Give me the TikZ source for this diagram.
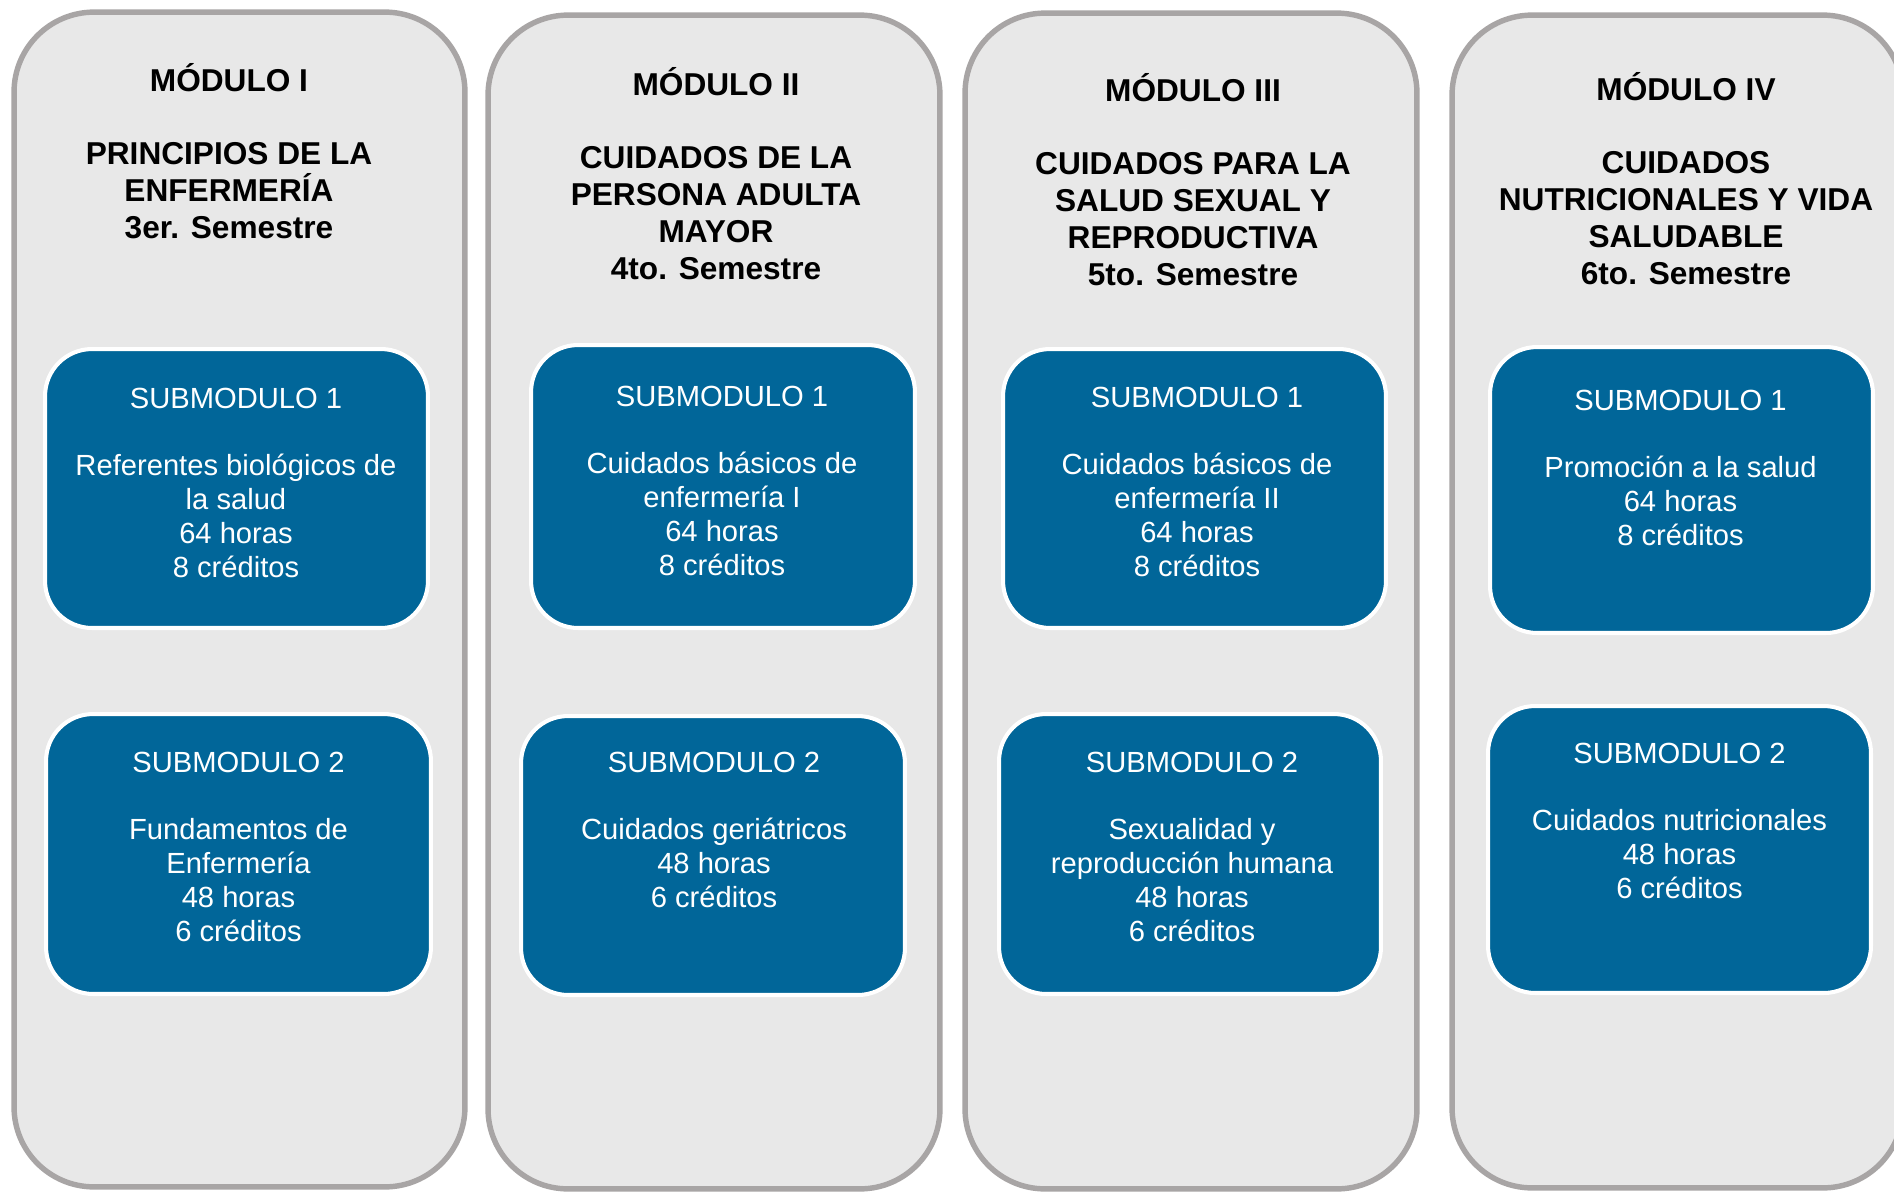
\documentclass[tikz,border=0pt]{standalone}
\usepackage{fontspec}
\setmainfont{Liberation Sans}
\definecolor{modfill}{RGB}{232,232,232}
\definecolor{modline}{RGB}{168,165,165}
\definecolor{subblue}{RGB}{1,102,153}
\begin{document}
\begin{tikzpicture}[x=0.02cm,y=-0.02cm,
  modbox/.style={draw=modline, fill=modfill, line width=3.1pt, rounded corners=1.6cm, inner sep=0pt, outer sep=0pt},
  subbox/.style={draw=white, fill=subblue, line width=2.3pt, rounded corners=0.94cm, inner sep=0pt, outer sep=0pt},
  titletext/.style={font=\bfseries\fontsize{18pt}{20.9pt}\selectfont, align=center, anchor=base, inner sep=0pt, text=black},
  subtext/.style={font=\fontsize{16.6pt}{19.2pt}\selectfont, align=center, anchor=base, inner sep=0pt, text=white}]
\useasboundingbox[fill=white] (0,0) rectangle (1894,1191);
\clip (0,0) rectangle (1894,1191);

% modules
\node (m1) [modbox, minimum width=9.02cm, minimum height=23.5cm] at (239.5,599.5) {};
\node (m2) [modbox, minimum width=9.04cm, minimum height=23.48cm] at (714,602) {};
\node (m3) [modbox, minimum width=9.04cm, minimum height=23.52cm] at (1191,601) {};
\node (m4) [modbox, minimum width=9.02cm, minimum height=23.46cm] at (1677.5,601.5) {};

% submodule boxes
\node (s11) [subbox, minimum width=7.66cm, minimum height=5.58cm] at (236.5,488.5) {};
\node (s12) [subbox, minimum width=7.70cm, minimum height=5.60cm] at (238.5,854) {};
\node (s21) [subbox, minimum width=7.68cm, minimum height=5.66cm] at (723,486.5) {};
\node (s22) [subbox, minimum width=7.68cm, minimum height=5.58cm] at (713,855.5) {};
\node (s31) [subbox, minimum width=7.66cm, minimum height=5.58cm] at (1194.5,488.5) {};
\node (s32) [subbox, minimum width=7.64cm, minimum height=5.60cm] at (1190,854) {};
\node (s41) [subbox, minimum width=7.66cm, minimum height=5.72cm] at (1681.5,490) {};
\node (s42) [subbox, minimum width=7.66cm, minimum height=5.74cm] at (1679.5,849.5) {};

% titles (anchored at the baseline of the last line)
\node (t1) [titletext] at (229,238) {MÓDULO I\\[20.9pt]PRINCIPIOS DE LA\\ENFERMERÍA\\3er. Semestre};
\node (t2) [titletext] at (716,279) {MÓDULO II\\[20.9pt]CUIDADOS DE LA\\PERSONA ADULTA\\MAYOR\\4to. Semestre};
\node (t3) [titletext] at (1193,285) {MÓDULO III\\[20.9pt]CUIDADOS PARA LA\\SALUD SEXUAL Y\\REPRODUCTIVA\\5to. Semestre};
\node (t4) [titletext] at (1686,284) {MÓDULO IV\\[20.9pt]CUIDADOS\\NUTRICIONALES Y VIDA\\SALUDABLE\\6to. Semestre};

% submodule texts (anchored at the baseline of the last line)
\node (x11) [subtext] at (236,577) {SUBMODULO 1\\[19.2pt]Referentes biológicos de\\la salud\\64 horas\\8 créditos};
\node (x12) [subtext] at (238.5,941) {SUBMODULO 2\\[19.2pt]Fundamentos de\\Enfermería\\48 horas\\6 créditos};
\node (x21) [subtext] at (722,575) {SUBMODULO 1\\[19.2pt]Cuidados básicos de\\enfermería I\\64 horas\\8 créditos};
\node (x22) [subtext] at (714,907) {SUBMODULO 2\\[19.2pt]Cuidados geriátricos\\48 horas\\6 créditos};
\node (x31) [subtext] at (1197,576) {SUBMODULO 1\\[19.2pt]Cuidados básicos de\\enfermería II\\64 horas\\8 créditos};
\node (x32) [subtext] at (1192,941) {SUBMODULO 2\\[19.2pt]Sexualidad y\\reproducción humana\\48 horas\\6 créditos};
\node (x41) [subtext] at (1680.5,545) {SUBMODULO 1\\[19.2pt]Promoción a la salud\\64 horas\\8 créditos};
\node (x42) [subtext] at (1679.5,898) {SUBMODULO 2\\[19.2pt]Cuidados nutricionales\\48 horas\\6 créditos};
\end{tikzpicture}
\end{document}
